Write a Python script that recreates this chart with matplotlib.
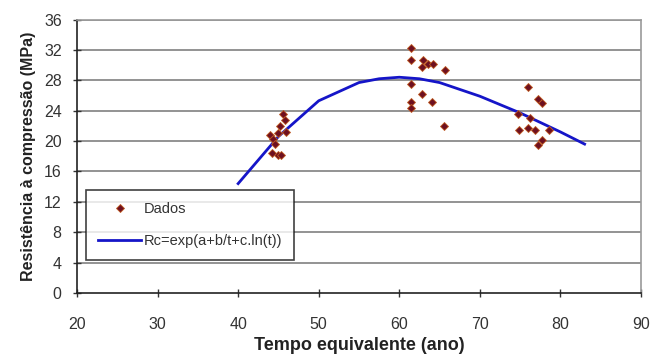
import matplotlib
matplotlib.use("Agg")
import matplotlib.pyplot as plt
from matplotlib.lines import Line2D

plt.rcParams['font.family'] = ['Liberation Sans', 'DejaVu Sans']

# Measured compressive strength vs. equivalent age
tempo_dados = [44.0, 44.3, 44.6, 45.0, 45.3, 45.6, 45.8, 46.0, 45.2, 44.2, 44.9,
               61.5, 61.5, 63.0, 62.8, 63.6, 64.2, 65.7, 61.5, 62.8, 64.1, 61.5, 61.5, 65.6,
               76.0, 77.2, 77.7, 74.7, 76.2, 74.8, 76.0, 76.8, 78.6, 77.7, 77.2]
resist_dados = [20.8, 20.3, 19.6, 18.2, 18.2, 23.5, 22.8, 21.2, 22.0, 18.4, 21.0,
                32.2, 30.7, 30.7, 29.7, 30.1, 30.1, 29.4, 27.5, 26.2, 25.2, 25.1, 24.4, 22.0,
                27.1, 25.6, 25.0, 23.5, 23.1, 21.4, 21.7, 21.5, 21.4, 20.2, 19.5]

# Fitted model Rc = exp(a + b/t + c.ln(t)), sampled along t
tempo_modelo = [40, 45, 50, 55, 57.5, 60, 62.5, 65, 70, 75, 80, 83]
resist_modelo = [14.4, 20.6, 25.3, 27.7, 28.2, 28.4, 28.2, 27.7, 25.9, 23.7, 21.2, 19.6]

x_ticks = [20, 30, 40, 50, 60, 70, 80, 90]
y_ticks = [0, 4, 8, 12, 16, 20, 24, 28, 32, 36]

W, H = 652, 361
fig = plt.figure(figsize=(W / 100, H / 100), dpi=100)
ax = fig.add_axes([77 / W, 1 - 293 / H, (641 - 77) / W, (293 - 19.5) / H])

for yv in y_ticks[1:]:
    ax.axhline(yv, color='#8a8a8a', lw=1.3, zorder=1)

ax.plot(tempo_modelo, resist_modelo, color='#1515c8', lw=2.0, zorder=3)
ax.plot(tempo_dados, resist_dados, linestyle='none', marker='D', ms=4.2,
        mfc='#6e1020', mec='#c05a20', mew=0.6, zorder=4)

ax.set_xlim(20, 90)
ax.set_ylim(0, 36)
ax.set_xticks(x_ticks)
ax.set_yticks(y_ticks)
ax.tick_params(direction='inout', length=6, width=1, colors='#333333',
               labelsize=11.5)
ax.tick_params(axis='x', pad=14)
ax.tick_params(axis='y', pad=8)

for side in ('left', 'bottom'):
    ax.spines[side].set_color('#222222')
    ax.spines[side].set_linewidth(1.2)
for side in ('top', 'right'):
    ax.spines[side].set_color('#9a9a9a')
    ax.spines[side].set_linewidth(1.2)

ax.set_xlabel('Tempo equivalente (ano)', fontsize=13, fontweight='bold',
              color='#222222', labelpad=4)
ax.set_ylabel('Resistência à compressão (MPa)', fontsize=11.5, fontweight='bold',
              color='#222222', labelpad=6)

handles = [
    Line2D([], [], linestyle='none', marker='D', ms=4.2, mfc='#6e1020',
           mec='#c05a20', mew=0.6),
    Line2D([], [], color='#1515c8', lw=2.0),
]
leg = fig.legend(handles, ['Dados', 'Rc=exp(a+b/t+c.ln(t))'],
                 loc='upper left', bbox_to_anchor=(86 / W, 1 - 190 / H),
                 frameon=True, fancybox=False, fontsize=10.5,
                 handlelength=3.0, handletextpad=0.15, labelspacing=1.25,
                 borderpad=0.8, borderaxespad=0)
leg.get_frame().set_edgecolor('#111111')
leg.get_frame().set_linewidth(1.2)
for t in leg.get_texts():
    t.set_color('#333333')

fig.savefig('out.png', dpi=100, facecolor='white')
